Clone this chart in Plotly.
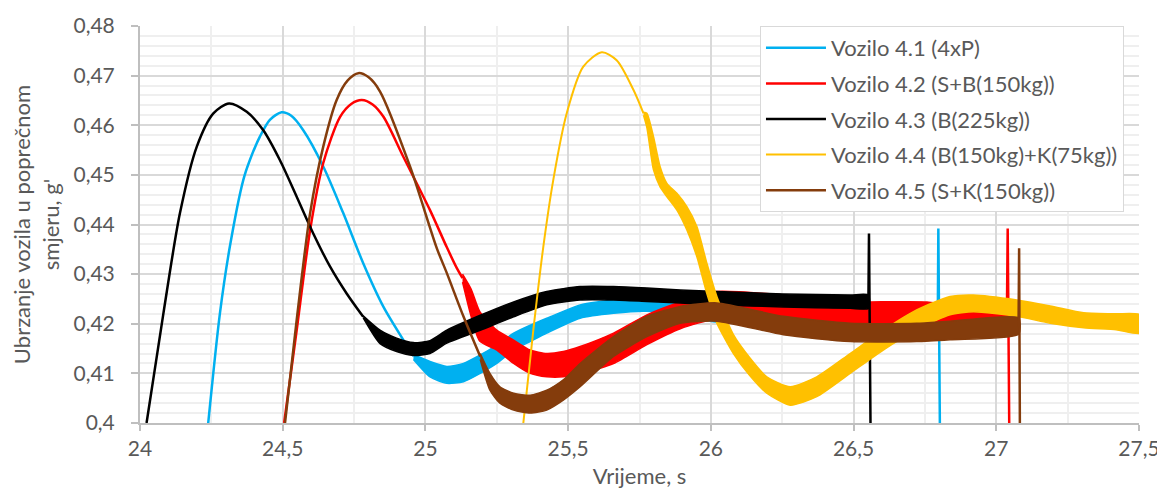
import plotly.graph_objects as go

# ---------------- data ----------------
names = ["Vozilo 4.1 (4xP)", "Vozilo 4.2 (S+B(150kg))", "Vozilo 4.3 (B(225kg))",
         "Vozilo 4.4 (B(150kg)+K(75kg))", "Vozilo 4.5 (S+K(150kg))"]
colors = ["#00B0F0", "#FF0000", "#000000", "#FFC000", "#843C0C"]

# Vozilo 4.1
v1_line_t = [24.239, 24.280, 24.315, 24.362, 24.385, 24.420, 24.455, 24.496, 24.530, 24.572, 24.642, 24.712, 24.782, 24.853, 24.923, 24.958]
v1_line_v = [0.400, 0.4221, 0.4356, 0.4490, 0.4530, 0.4577, 0.4611, 0.4626, 0.4619, 0.4590, 0.4517, 0.4423, 0.4322, 0.4234, 0.4167, 0.4135]
v1_band_t = [24.958, 25.016, 25.075, 25.133, 25.192, 25.250, 25.309, 25.367, 25.425, 25.542, 25.659, 25.776, 25.893, 26.021, 26.254, 26.488, 26.795]
v1_band_hi = [0.4138, 0.4124, 0.4114, 0.4120, 0.4137, 0.4157, 0.4181, 0.4197, 0.4211, 0.4238, 0.4248, 0.4248, 0.4244, 0.4232, 0.4225, 0.4222, 0.4220]
v1_band_lo = [0.4128, 0.4093, 0.4080, 0.4083, 0.4100, 0.4120, 0.4147, 0.4164, 0.4181, 0.4211, 0.4221, 0.4225, 0.4215, 0.4203, 0.4198, 0.4195, 0.4192]
v1_tail_t = [26.795, 26.797, 26.803]
v1_tail_v = [0.4206, 0.4392, 0.395]

# Vozilo 4.2
v2_line_t = [24.505, 24.549, 24.596, 24.642, 24.701, 24.740, 24.777, 24.815, 24.853, 24.923, 25.016, 25.075, 25.110, 25.130]
v2_line_v = [0.400, 0.4187, 0.4389, 0.4524, 0.4617, 0.4643, 0.4651, 0.4642, 0.4617, 0.4536, 0.4429, 0.4354, 0.4312, 0.4292]
v2_band_t = [25.130, 25.160, 25.190, 25.250, 25.309, 25.367, 25.425, 25.483, 25.542, 25.659, 25.776, 25.893, 26.021, 26.254, 26.488, 26.558, 26.757, 26.873, 27.037]
v2_band_hi = [0.4300, 0.4270, 0.4225, 0.4187, 0.4167, 0.4147, 0.4140, 0.4144, 0.4154, 0.4181, 0.4218, 0.4244, 0.4265, 0.4258, 0.4244, 0.4244, 0.4244, 0.4235, 0.4220]
v2_band_lo = [0.4284, 0.4215, 0.4165, 0.4147, 0.4120, 0.4100, 0.4093, 0.4093, 0.4100, 0.4120, 0.4158, 0.4190, 0.4210, 0.4205, 0.4197, 0.4196, 0.4196, 0.4196, 0.4195]
v2_tail_t = [27.037, 27.040, 27.046]
v2_tail_v = [0.4207, 0.4392, 0.395]

# Vozilo 4.3
v3_line_t = [24.023, 24.082, 24.140, 24.199, 24.257, 24.312, 24.374, 24.432, 24.490, 24.549, 24.607, 24.666, 24.724, 24.782]
v3_line_v = [0.400, 0.4221, 0.4423, 0.4557, 0.4624, 0.4644, 0.4627, 0.4590, 0.4530, 0.4456, 0.4382, 0.4315, 0.4261, 0.4214]
v3_band_t = [24.782, 24.841, 24.899, 24.958, 25.016, 25.075, 25.192, 25.309, 25.425, 25.542, 25.659, 25.776, 25.893, 26.021, 26.254, 26.488, 26.552]
v3_band_hi = [0.4216, 0.4187, 0.4171, 0.4162, 0.4166, 0.4187, 0.4217, 0.4244, 0.4265, 0.4275, 0.4275, 0.4272, 0.4268, 0.4265, 0.4260, 0.4258, 0.4258]
v3_band_lo = [0.4212, 0.4160, 0.4144, 0.4136, 0.4140, 0.4161, 0.4187, 0.4214, 0.4238, 0.4248, 0.4248, 0.4245, 0.4242, 0.4238, 0.4234, 0.4231, 0.4231]
v3_tail_t = [26.552, 26.554, 26.560]
v3_tail_v = [0.4245, 0.4382, 0.395]

# Vozilo 4.4
v4_line_t = [25.343, 25.378, 25.413, 25.448, 25.495, 25.553, 25.618, 25.670, 25.729, 25.764]
v4_line_v = [0.400, 0.4187, 0.4355, 0.4490, 0.4624, 0.4718, 0.4747, 0.4731, 0.4671, 0.4624]
v4_band_t = [25.764, 25.776, 25.799, 25.822, 25.846, 25.881, 25.916, 25.951, 25.986, 26.021, 26.079, 26.137, 26.196, 26.278, 26.371, 26.488, 26.604, 26.721, 26.838, 26.920, 27.072, 27.189, 27.306, 27.420, 27.504]
v4_band_hi = [0.4626, 0.4624, 0.4577, 0.4517, 0.4483, 0.4463, 0.4436, 0.4396, 0.4322, 0.4255, 0.4178, 0.4131, 0.4093, 0.4073, 0.4093, 0.4140, 0.4187, 0.4228, 0.4255, 0.4258, 0.4248, 0.4236, 0.4222, 0.4220, 0.4218]
v4_band_lo = [0.4620, 0.4595, 0.4510, 0.4476, 0.4456, 0.4429, 0.4389, 0.4335, 0.4261, 0.4201, 0.4140, 0.4095, 0.4060, 0.4036, 0.4053, 0.4100, 0.4147, 0.4187, 0.4218, 0.4224, 0.4215, 0.4201, 0.4192, 0.4188, 0.4181]
v4_tail_t = []
v4_tail_v = []

# Vozilo 4.5
v5_line_t = [24.508, 24.549, 24.596, 24.642, 24.689, 24.727, 24.765, 24.800, 24.841, 24.946, 25.040, 25.075, 25.133, 25.192]
v5_line_v = [0.400, 0.4208, 0.4423, 0.4557, 0.4651, 0.4690, 0.4705, 0.4697, 0.4668, 0.4517, 0.4352, 0.4302, 0.4215, 0.4134]
v5_band_t = [25.192, 25.226, 25.261, 25.309, 25.367, 25.425, 25.483, 25.542, 25.659, 25.776, 25.893, 26.021, 26.254, 26.488, 26.721, 26.838, 27.078]
v5_band_hi = [0.4140, 0.4100, 0.4073, 0.4060, 0.4056, 0.4066, 0.4087, 0.4120, 0.4174, 0.4215, 0.4235, 0.4242, 0.4215, 0.4201, 0.4201, 0.4205, 0.4212]
v5_band_lo = [0.4128, 0.4066, 0.4040, 0.4026, 0.4020, 0.4026, 0.4046, 0.4073, 0.4134, 0.4174, 0.4201, 0.4205, 0.4178, 0.4164, 0.4164, 0.4168, 0.4179]
v5_tail_t = [27.078, 27.080, 27.083]
v5_tail_v = [0.4195, 0.4352, 0.395]

x_tick_vals = [24, 24.5, 25, 25.5, 26, 26.5, 27, 27.5]
x_tick_text = ["24", "24,5", "25", "25,5", "26", "26,5", "27", "27,5"]
y_tick_vals = [0.40, 0.41, 0.42, 0.43, 0.44, 0.45, 0.46, 0.47, 0.48]
y_tick_text = ["0,4", "0,41", "0,42", "0,43", "0,44", "0,45", "0,46", "0,47", "0,48"]

series = [
    (v1_line_t, v1_line_v, v1_band_t, v1_band_hi, v1_band_lo, v1_tail_t, v1_tail_v),
    (v2_line_t, v2_line_v, v2_band_t, v2_band_hi, v2_band_lo, v2_tail_t, v2_tail_v),
    (v3_line_t, v3_line_v, v3_band_t, v3_band_hi, v3_band_lo, v3_tail_t, v3_tail_v),
    (v4_line_t, v4_line_v, v4_band_t, v4_band_hi, v4_band_lo, v4_tail_t, v4_tail_v),
    (v5_line_t, v5_line_v, v5_band_t, v5_band_hi, v5_band_lo, v5_tail_t, v5_tail_v),
]

FONT = "Lato"
TXT = "#595959"
fig = go.Figure()
for name, col, (lt, lv, bt, bh, bl, tt, tv) in zip(names, colors, series):
    lw = 2 if col == "#FFC000" else 2.5
    fig.add_trace(go.Scatter(x=lt, y=lv, mode="lines", name=name, legendgroup=name,
                             line=dict(color=col, width=lw, shape="spline", smoothing=0.8),
                             showlegend=True))
    fig.add_trace(go.Scatter(x=bt + bt[::-1], y=bh + bl[::-1], mode="lines", fill="toself",
                             fillcolor=col, line=dict(color=col, width=1.5, shape="spline", smoothing=0.6),
                             legendgroup=name, showlegend=False, hoverinfo="skip"))
    if tt:
        fig.add_trace(go.Scatter(x=tt, y=tv, mode="lines", line=dict(color=col, width=2.5),
                                 legendgroup=name, showlegend=False))

# the page body adds an 8px offset to the figure
fig.update_layout(
    width=1157, height=481,
    margin=dict(l=132, r=26, t=18, b=66),
    paper_bgcolor="white", plot_bgcolor="white",
    font=dict(family=FONT, size=21, color=TXT),
    legend=dict(x=0.6206, y=1.0, xanchor="left", yanchor="top", bgcolor="white",
                bordercolor="#d9d9d9", borderwidth=1, tracegroupgap=4,
                itemwidth=60, entrywidth=363, entrywidthmode="pixels",
                font=dict(family=FONT, size=22, color=TXT)),
    showlegend=True,
)
fig.update_xaxes(
    automargin=False,
    range=[24, 27.5], tickvals=x_tick_vals, ticktext=x_tick_text,
    showgrid=True, gridcolor="#d9d9d9", gridwidth=2,
    minor=dict(dtick=0.25, tick0=24, showgrid=True, gridcolor="#efefef", gridwidth=2),
    showline=True, linecolor="#bfbfbf", linewidth=2,
    ticks="outside", ticklen=6, tickcolor="#bfbfbf", tickwidth=2,
    tickfont=dict(size=21, color=TXT),
    title=dict(text="Vrijeme, s", font=dict(size=22, color=TXT), standoff=11),
    zeroline=False,
)
fig.update_yaxes(
    automargin=False,
    range=[0.4, 0.48], tickvals=y_tick_vals, ticktext=y_tick_text,
    showgrid=True, gridcolor="#d9d9d9", gridwidth=2,
    minor=dict(dtick=0.002, tick0=0.4, showgrid=True, gridcolor="#efefef", gridwidth=2),
    showline=True, linecolor="#bfbfbf", linewidth=2,
    ticks="outside", ticklen=7, tickcolor="#bfbfbf", tickwidth=2,
    ticklabelstandoff=12,
    tickfont=dict(size=21, color=TXT),
    title=dict(text="Ubrzanje vozila u poprečnom<br>smjeru, g'", font=dict(size=22, color=TXT), standoff=18),
    zeroline=False,
)
fig.write_html("out.html")
